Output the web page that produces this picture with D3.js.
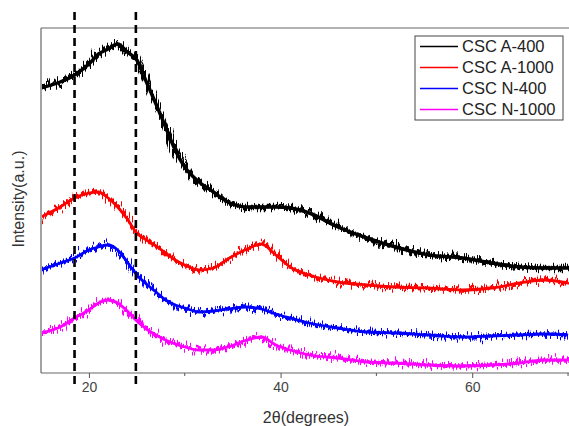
<!doctype html>
<html lang="en">
<head>
    <meta charset="UTF-8">
    <title>XRD</title>
    <script src="https://cdnjs.cloudflare.com/ajax/libs/d3/7.8.5/d3.min.js"></script>
    <style>
        body { margin: 0; background: #fff; }
        text { font-family: Arial, "Liberation Sans", sans-serif; }
    </style>
</head>
<body>
<svg id="chart" width="569" height="426"></svg>

<script>

    // 2theta sample positions (degrees)
    var angles = [15, 17, 18.5, 20, 21, 22, 23, 24, 25, 26, 27, 28, 29, 30, 31.5, 33, 34.5,
        36.5, 38, 39.5, 41, 43, 46, 49, 52, 55.5, 59, 62, 65, 67.5, 70];

    // intensities (a.u.)
    var a400 = [2850, 2910, 2980, 3090, 3190, 3240, 3290, 3210, 3130, 2910, 2690, 2460, 2230, 2060,
        1910, 1810, 1710, 1660, 1660, 1660, 1650, 1600, 1460, 1350, 1260, 1180, 1150, 1100, 1060, 1050, 1050];
    var a1000 = [1560, 1660, 1750, 1800, 1810, 1750, 1660, 1540, 1400, 1330, 1270, 1200, 1130, 1080,
        1030, 1050, 1140, 1240, 1290, 1180, 1060, 980, 910, 880, 860, 850, 830, 850, 900, 930, 900];
    var n400 = [1030, 1100, 1150, 1230, 1260, 1280, 1230, 1110, 980, 890, 810, 730, 680, 650,
        610, 620, 640, 660, 640, 590, 550, 500, 450, 410, 400, 380, 360, 370, 380, 390, 380];
    var n1000 = [400, 460, 550, 630, 700, 730, 700, 620, 520, 440, 380, 330, 290, 260,
        230, 230, 260, 330, 360, 280, 230, 180, 150, 110, 100, 80, 70, 80, 100, 130, 130];

    var seriesNames = ['CSC A-400', 'CSC A-1000', 'CSC N-400', 'CSC N-1000'];
    var seriesColors = ['#000000', '#ff0000', '#0000ff', '#ff00ff'];
    var seriesValues = [a400, a1000, n400, n1000];

    var xTicks = [20, 40, 60];
    var xMinorTicks = [30, 50, 70];
    var markers = [18.5, 24.9];

    var pLeft = 41, pRight = 568, pTop = 28, pBottom = 373;

    var x = d3.scaleLinear().domain([15, 70.1]).range([pLeft, pRight + 1]);
    var y = d3.scaleLinear().domain([0, 3450]).range([pBottom, pTop]);

    var svg = d3.select('#chart');
    var defs = svg.append('defs');

    defs.append('clipPath').attr('id', 'plot')
        .append('rect')
        .attr('x', pLeft + 1).attr('y', pTop + 1)
        .attr('width', pRight - pLeft + 2).attr('height', pBottom - pTop - 1);

    // jitter filter so the lines look like noisy counting data
    var f = defs.append('filter').attr('id', 'noise')
        .attr('filterUnits', 'userSpaceOnUse')
        .attr('x', 0).attr('y', 0).attr('width', 569).attr('height', 426);
    f.append('feTurbulence')
        .attr('type', 'fractalNoise')
        .attr('baseFrequency', '0.8 0.03')
        .attr('numOctaves', 2)
        .attr('seed', 3)
        .attr('result', 'turb');
    f.append('feDisplacementMap')
        .attr('in', 'SourceGraphic')
        .attr('in2', 'turb')
        .attr('scale', 17)
        .attr('xChannelSelector', 'B')
        .attr('yChannelSelector', 'G');

    var line = d3.line()
        .x(function (d) { return x(d[0]); })
        .y(function (d) { return y(d[1]); })
        .curve(d3.curveMonotoneX);

    var curves = svg.append('g').attr('clip-path', 'url(#plot)');

    seriesValues.forEach(function (vals, k) {
        var pts = angles.map(function (a, i) { return [a, vals[i]]; });
        curves.append('path')
            .datum(pts)
            .attr('d', line)
            .attr('fill', 'none')
            .attr('stroke', seriesColors[k])
            .attr('stroke-width', k === 0 ? 4.5 : 3.5)
            .attr('filter', 'url(#noise)');
        curves.append('path')
            .datum(pts)
            .attr('d', line)
            .attr('fill', 'none')
            .attr('stroke', seriesColors[k])
            .attr('stroke-width', k === 0 ? 3.5 : 2.8);
    });

    // frame
    svg.append('line')
        .attr('x1', pLeft).attr('x2', 569).attr('y1', pTop).attr('y2', pTop)
        .attr('stroke', '#666').attr('stroke-width', 1.2);
    svg.append('line')
        .attr('x1', pLeft).attr('x2', pLeft).attr('y1', pTop).attr('y2', pBottom)
        .attr('stroke', '#666').attr('stroke-width', 1.2);

    var xAxis = d3.axisBottom(x).tickValues(xTicks).tickSize(5).tickPadding(4);
    var gx = svg.append('g')
        .attr('transform', 'translate(0,' + pBottom + ')')
        .call(xAxis);
    gx.select('.domain').attr('stroke', '#666').attr('stroke-width', 1.2)
        .attr('d', 'M' + pLeft + ',0H569');
    gx.selectAll('.tick line').attr('stroke', '#555');
    gx.selectAll('.tick text')
        .attr('fill', '#444')
        .style('font-size', '14px')
        .style('font-family', 'Arial, "Liberation Sans", sans-serif');

    gx.selectAll('.minor')
        .data(xMinorTicks)
        .enter().append('line')
        .attr('class', 'minor')
        .attr('x1', function (d) { return x(d); })
        .attr('x2', function (d) { return x(d); })
        .attr('y1', 0).attr('y2', 3)
        .attr('stroke', '#555');

    // dashed marker lines
    svg.selectAll('.marker')
        .data(markers)
        .enter().append('line')
        .attr('class', 'marker')
        .attr('x1', function (d) { return x(d); })
        .attr('x2', function (d) { return x(d); })
        .attr('y1', 12).attr('y2', 387)
        .attr('stroke', '#000')
        .attr('stroke-width', 2.6)
        .attr('stroke-dasharray', '8,5');

    // axis titles
    svg.append('text')
        .attr('transform', 'translate(24,199) rotate(-90)')
        .attr('text-anchor', 'middle')
        .attr('fill', '#333')
        .style('font-size', '16px')
        .text('Intensity(a.u.)');

    svg.append('text')
        .attr('x', 306).attr('y', 423)
        .attr('text-anchor', 'middle')
        .attr('fill', '#333')
        .style('font-size', '16px')
        .text('2θ(degrees)');

    // legend
    var lg = svg.append('g').attr('transform', 'translate(415,36)');
    lg.append('rect')
        .attr('width', 148).attr('height', 84)
        .attr('fill', '#fff')
        .attr('stroke', '#444').attr('stroke-width', 1);

    seriesNames.forEach(function (name, i) {
        var row = lg.append('g')
            .attr('transform', 'translate(0,' + (10.5 + i * 21) + ')');
        row.append('line')
            .attr('x1', 5).attr('x2', 43).attr('y1', 0).attr('y2', 0)
            .attr('stroke', seriesColors[i])
            .attr('stroke-width', 1.5);
        row.append('text')
            .attr('x', 47).attr('y', 5.5)
            .attr('fill', '#222')
            .style('font-size', '16.5px')
            .text(name);
    });

</script>
</body>
</html>
